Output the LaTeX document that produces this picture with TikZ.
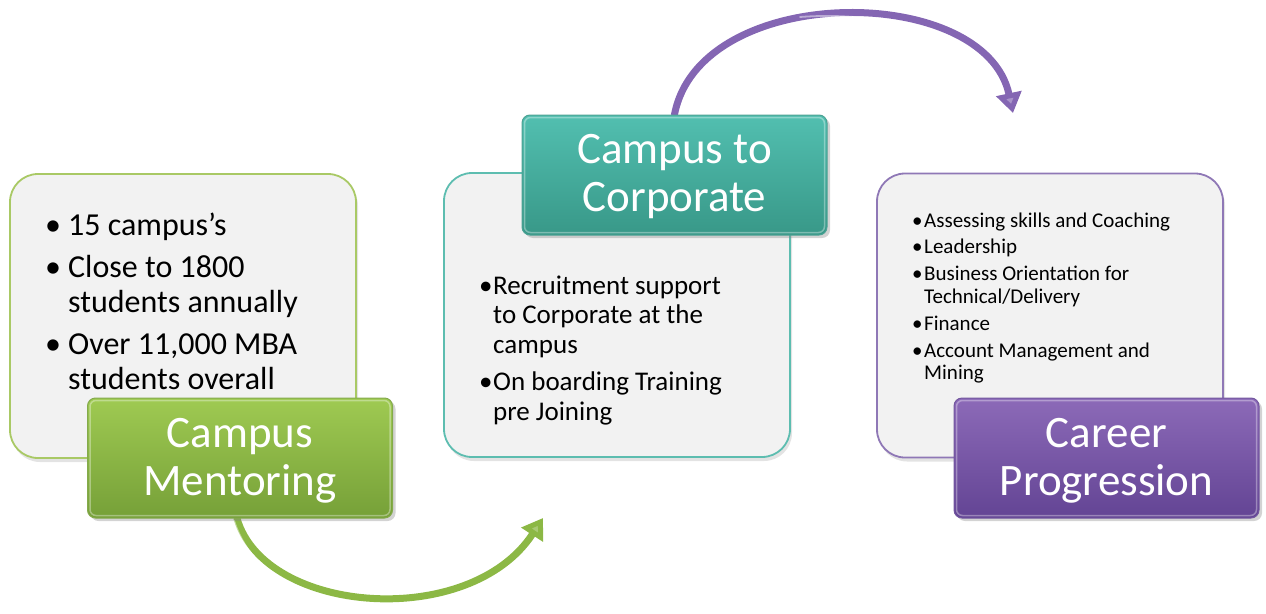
\documentclass[tikz,border=0pt]{standalone}
\usepackage{fontspec}
\setmainfont{Carlito}
\usetikzlibrary{arrows.meta,shadows,calc}
\definecolor{lightfill}{HTML}{F2F2F2}
\definecolor{gborder}{HTML}{A9C965}
\definecolor{tborder}{HTML}{5DBDB0}
\definecolor{pborder}{HTML}{8F78B6}
\definecolor{gtop}{HTML}{9FCA52}
\definecolor{gbot}{HTML}{76A038}
\definecolor{ttop}{HTML}{52BFB0}
\definecolor{tbot}{HTML}{389888}
\definecolor{ptop}{HTML}{8C6AB8}
\definecolor{pbot}{HTML}{634494}
\definecolor{garrow}{HTML}{8CB845}
\definecolor{parrow}{HTML}{8466B3}
\pgfdeclarelayer{background}
\pgfsetlayers{background,main}
\begin{document}
\begin{tikzpicture}[x=1pt,y=-1pt,
  lbox/.style={rounded corners=28pt, minimum width=346pt, minimum height=284pt, inner sep=0pt,
    fill=lightfill, line width=1.8pt,
    drop shadow={opacity=0.22, shadow xshift=2pt, shadow yshift=-4pt}},
  cbox/.style={rounded corners=8pt, minimum width=305pt, minimum height=120pt, inner sep=0pt,
    line width=1pt, drop shadow={opacity=0.35, shadow xshift=3pt, shadow yshift=-3pt}},
  bevel/.style={white, opacity=0.35, line width=1.5pt, rounded corners=6pt},
  lab/.style={inner sep=0pt, text=white, font=\fontsize{45}{48.5}\selectfont},
  bulA/.style={inner sep=0pt, font=\fontsize{32}{35}\selectfont},
  bulB/.style={inner sep=0pt, font=\fontsize{27}{29.5}\selectfont},
  bulC/.style={inner sep=0pt, font=\fontsize{21}{22.5}\selectfont},
  arrowline/.style={line width=7pt, line cap=round},
  hilite/.style={white, opacity=0.45, line width=1.8pt, line cap=round}
]
\useasboundingbox (0,0) rectangle (1266,613);

% light boxes
\node[lbox, draw=gborder] (b1) at (183,316) {};
\node[lbox, draw=tborder] (b2) at (617,315) {};
\node[lbox, draw=pborder] (b3) at (1050,315.5) {};

% coloured title boxes
\node[cbox, draw=gbot!90!white, top color=gtop, bottom color=gbot] (g) at (240,458) {};
\draw[bevel] ($(g.north west)+(3,3)$) rectangle ($(g.south east)+(-3,-3)$);
\node[cbox, draw=tbot!90!white, top color=ttop, bottom color=tbot] (t) at (674.5,175) {};
\draw[bevel] ($(t.north west)+(3,3)$) rectangle ($(t.south east)+(-3,-3)$);
\node[cbox, draw=pbot!90!white, top color=ptop, bottom color=pbot] (p) at (1106.5,458) {};
\draw[bevel] ($(p.north west)+(3,3)$) rectangle ($(p.south east)+(-3,-3)$);

% titles
\node[lab, anchor=base] (gl) at (240,447) {\begin{tabular}[t]{@{}c@{}}Campus\\Mentoring\end{tabular}};
\node[lab, anchor=base] (tl) at (674.5,163) {\begin{tabular}[t]{@{}c@{}}Campus to\\Corporate\end{tabular}};
\node[lab, anchor=base] (pl) at (1106.5,447) {\begin{tabular}[t]{@{}c@{}}Career\\Progression\end{tabular}};

% bullet texts
\node[bulA, anchor=base west] (l1) at (45,235) {\begin{tabular}[t]{@{}p{23pt}@{}l@{}}
•&15 campus’s\\[7pt]
•&Close to 1800\\
&students annually\\[7pt]
•&Over 11,000 MBA\\
&students overall
\end{tabular}};
\node[bulB, anchor=base west] (l2) at (479,294) {\begin{tabular}[t]{@{}p{14pt}@{}l@{}}
•&Recruitment support\\
&to Corporate at the\\
&campus\\[8pt]
•&On boarding Training\\
&pre Joining
\end{tabular}};
\node[bulC, anchor=base west] (l3) at (912,227) {\begin{tabular}[t]{@{}p{12pt}@{}l@{}}
•&Assessing skills and Coaching\\[4pt]
•&Leadership\\[4.5pt]
•&Business Orientation for\\
&Technical/Delivery\\[4.5pt]
•&Finance\\[4.5pt]
•&Account Management and\\
&Mining
\end{tabular}};

% arrows
\coordinate (gend) at (543,518);
\coordinate (pend) at (1013,113);
\begin{pgfonlayer}{background}
\draw[arrowline, garrow, -{Triangle[length=20pt,width=25pt,fill=garrow!75!white]}]
  ($(g.south)+(-3,0)$) .. controls (265,615) and (470,630) .. (gend);
\draw[hilite] ($(g.south)+(-6,2)$) .. controls (262,608) and (380,616) .. (430,602);
\draw[arrowline, parrow, -{Triangle[length=20pt,width=25pt,fill=parrow!70!white]}]
  (t.north) .. controls (700,-18) and (985,-18) .. (pend);
\draw[hilite] (800,17) .. controls (880,11) and (955,31) .. (985,79);
\end{pgfonlayer}
\end{tikzpicture}
\end{document}
